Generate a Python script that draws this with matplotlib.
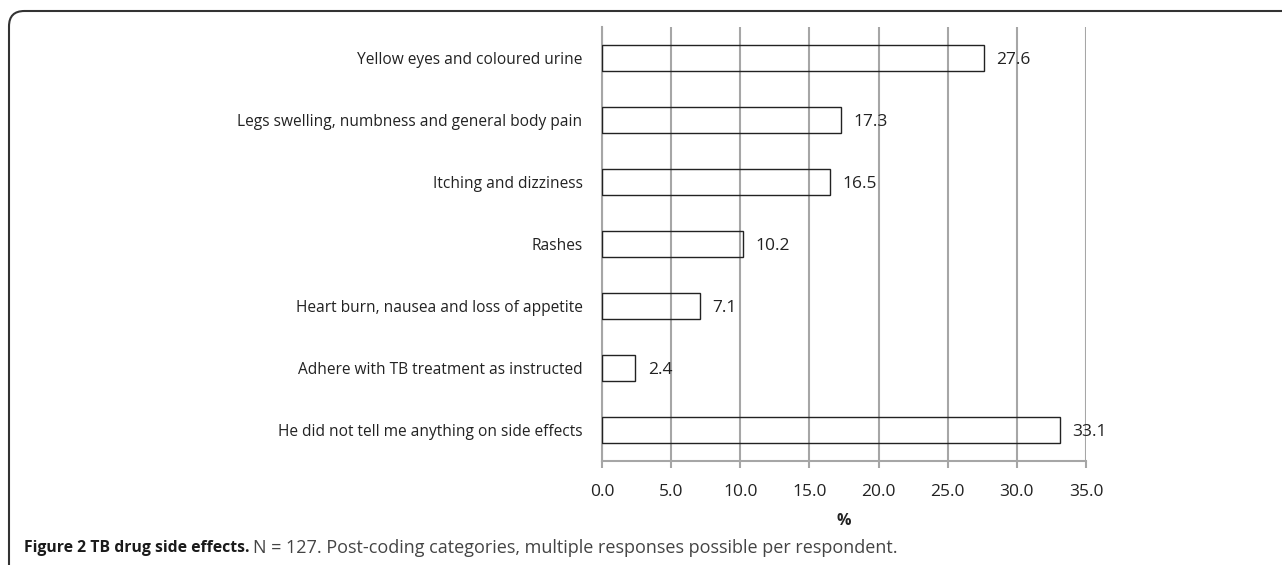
import matplotlib.pyplot as plt
from matplotlib.patches import FancyBboxPatch

categories = [
    "Yellow eyes and coloured urine",
    "Legs swelling, numbness and general body pain",
    "Itching and dizziness",
    "Rashes",
    "Heart burn, nausea and loss of appetite",
    "Adhere with TB treatment as instructed",
    "He did not tell me anything on side effects",
]
percents = [27.6, 17.3, 16.5, 10.2, 7.1, 2.4, 33.1]
xticks = [0, 5, 10, 15, 20, 25, 30, 35]

plt.rcParams['font.family'] = ['Open Sans', 'DejaVu Sans']

fig = plt.figure(figsize=(12.82, 5.65), dpi=100)
ax = fig.add_axes([0.4696, 0.1846, 0.3775, 0.7676])

grid_c = "#a6a6a6"
txt_c = "#222222"
pos = list(range(len(categories)))
ax.barh(pos, percents, height=0.42, facecolor="none", edgecolor=txt_c,
        linewidth=1.0, zorder=3)
for p, v in zip(pos, percents):
    ax.annotate("{:.1f}".format(v), (v, p), xytext=(9, 0), textcoords="offset points",
                va="center_baseline", ha="left", fontsize=12.5, color=txt_c, zorder=4)

ax.set_xlim(0, 35)
ax.set_ylim(len(categories) - 0.5, -0.5)
ax.set_yticks(pos)
ax.set_yticklabels(categories, fontsize=11.2, color=txt_c)
ax.set_xticks(xticks)
ax.set_xticklabels(["{:.1f}".format(t) for t in xticks], fontsize=12.5, color=txt_c)
ax.tick_params(axis="y", length=0, pad=14)
ax.tick_params(axis="x", length=5, width=1.5, color=grid_c, pad=12)
ax.xaxis.grid(True, color=grid_c, linewidth=1.5, zorder=0)
ax.set_axisbelow(True)
for s in ["top", "right"]:
    ax.spines[s].set_visible(False)
for s in ["left", "bottom"]:
    ax.spines[s].set_color(grid_c)
    ax.spines[s].set_linewidth(1.5)
ax.set_xlabel("%", fontsize=11.5, fontweight="bold", labelpad=9, color=txt_c)

# rounded frame around figure (open at right and bottom)
frame = FancyBboxPatch((9 / 1282, -0.2), 1.2, 1.2 - 11 / 565,
                       boxstyle="round,pad=0,rounding_size=0.012",
                       transform=fig.transFigure, facecolor="none",
                       edgecolor="#333333", linewidth=1.5, mutation_aspect=1282 / 565)
fig.patches.append(frame)

fig.text(24 / 1282, 1 - 548 / 565, "Figure 2 TB drug side effects.", fontsize=11.3,
         fontweight="bold", color="#1a1a1a", va="center", ha="left")
fig.text(253 / 1282, 1 - 548 / 565,
         "N = 127. Post-coding categories, multiple responses possible per respondent.",
         fontsize=13, color="#444444", va="center", ha="left")

fig.savefig("out.png", dpi=100)
